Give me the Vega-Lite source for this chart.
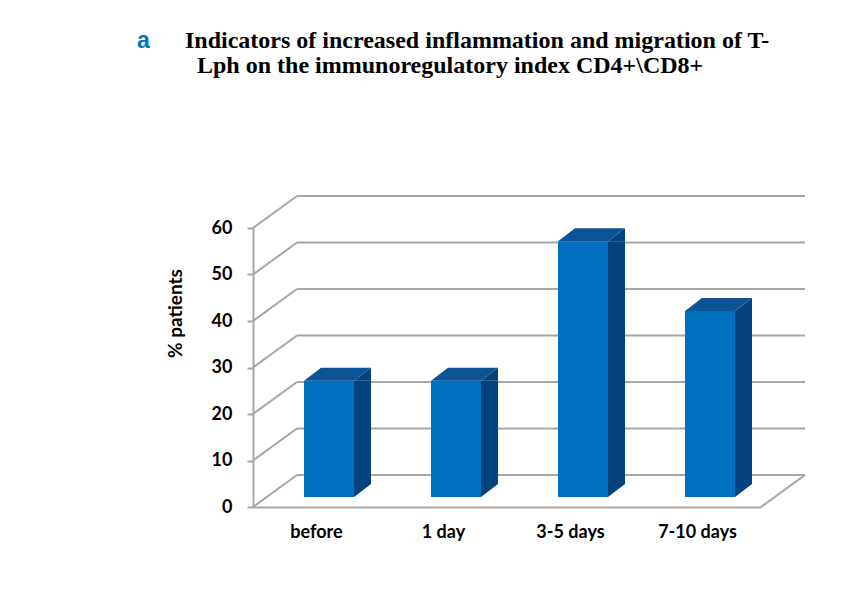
{
  "$schema": "https://vega.github.io/schema/vega-lite/v6.json",
  "width": 508,
  "height": 279,
  "autosize": {"type": "none"},
  "padding": {"left": 253, "top": 228, "right": 81, "bottom": 86},
  "background": "white",
  "title": {
    "text": "a",
    "subtitle": [
      "\u200B\u2002\u2002\u2002\u2002Indicators of increased inflammation and migration of T-",
      "\u200B\u2002\u2002\u2002\u2002\u2002Lph on the immunoregulatory index CD4+\\CD8+"
    ],
    "anchor": "start",
    "frame": "group",
    "orient": "top",
    "dx": -116,
    "offset": 116,
    "font": "Liberation Sans",
    "fontSize": 23,
    "fontWeight": "bold",
    "color": "#0070C0",
    "subtitleFont": "Liberation Serif",
    "subtitleFontSize": 24,
    "subtitleFontWeight": "bold",
    "subtitleColor": "#000000",
    "subtitlePadding": -24,
    "subtitleLineHeight": 25
  },
  "datasets": {
    "grid": [{"v": 0}, {"v": 10}, {"v": 20}, {"v": 30}, {"v": 40}, {"v": 50}, {"v": 60}],
    "bars": [
      {"period": "before", "pct": 25},
      {"period": "1 day", "pct": 25},
      {"period": "3-5 days", "pct": 55},
      {"period": "7-10 days", "pct": 40}
    ]
  },
  "config": {
    "view": {"stroke": null},
    "axisY": {
      "grid": false,
      "values": [0, 10, 20, 30, 40, 50, 60],
      "domainColor": "#A6A6A6",
      "domainWidth": 2,
      "tickColor": "#A6A6A6",
      "tickWidth": 2,
      "tickSize": 6,
      "labelFont": "Lato",
      "labelFontWeight": "bold",
      "labelFontSize": 18,
      "labelColor": "#000000",
      "labelPadding": 15,
      "titleFont": "Lato",
      "titleFontWeight": "bold",
      "titleFontSize": 19,
      "titleColor": "#000000",
      "titlePadding": 26,
      "titleY": 85
    },
    "axisX": {
      "grid": false,
      "ticks": false,
      "domainColor": "#A6A6A6",
      "domainWidth": 2,
      "labelFont": "Lato",
      "labelFontWeight": "bold",
      "labelFontSize": 18,
      "labelColor": "#000000",
      "labelPadding": 16,
      "labelAngle": 0,
      "title": null
    }
  },
  "resolve": {"scale": {"x": "independent"}},
  "layer": [
    {
      "data": {"name": "grid"},
      "layer": [
        {
          "mark": {"type": "rule", "color": "#A6A6A6", "strokeWidth": 2, "xOffset": 44, "x2Offset": 44, "yOffset": -32},
          "encoding": {
            "x": {"datum": 0, "type": "quantitative", "scale": {"domain": [0, 1]}, "axis": null},
            "x2": {"datum": 1},
            "y": {"field": "v", "type": "quantitative", "scale": {"domain": [0, 60], "nice": false}, "title": "% patients"}
          }
        },
        {
          "mark": {"type": "rule", "color": "#A6A6A6", "strokeWidth": 2, "x2Offset": 44, "y2Offset": -32},
          "encoding": {
            "x": {"datum": 0, "type": "quantitative", "scale": {"domain": [0, 1]}, "axis": null},
            "x2": {"datum": 0},
            "y": {"field": "v", "type": "quantitative", "scale": {"domain": [0, 60], "nice": false}, "title": "% patients"},
            "y2": {"field": "v"}
          }
        },
        {
          "transform": [{"filter": "datum.v == 0"}],
          "mark": {"type": "rule", "color": "#A6A6A6", "strokeWidth": 2, "x2Offset": 44, "y2Offset": -32},
          "encoding": {
            "x": {"datum": 1, "type": "quantitative", "scale": {"domain": [0, 1]}, "axis": null},
            "x2": {"datum": 1},
            "y": {"field": "v", "type": "quantitative", "scale": {"domain": [0, 60], "nice": false}, "title": "% patients"},
            "y2": {"field": "v"}
          }
        }
      ]
    },
    {
      "data": {"name": "bars"},
      "layer": [
        {
          "mark": {"type": "bar", "width": 50, "xOffset": 12.5, "yOffset": -10, "y2Offset": -10, "color": "#0070C0"},
          "encoding": {
            "x": {"field": "period", "type": "nominal", "sort": null, "scale": {"paddingInner": 0, "paddingOuter": 0}},
            "y": {"field": "pct", "type": "quantitative", "scale": {"domain": [0, 60], "nice": false}, "title": "% patients"},
            "y2": {"datum": 0}
          }
        },
        {
          "mark": {"type": "bar", "width": 17, "xOffset": 46, "yOffset": -10, "y2Offset": -23, "color": "#04427D"},
          "encoding": {
            "x": {"field": "period", "type": "nominal", "sort": null},
            "y": {"field": "pct", "type": "quantitative", "scale": {"domain": [0, 60], "nice": false}, "title": "% patients"},
            "y2": {"datum": 0}
          }
        },
        {
          "mark": {"type": "point", "shape": "M 37.5 -10 L 54.5 -23 L 54.5 -10 Z", "size": 4, "filled": true, "opacity": 1, "strokeWidth": 0, "color": "#04427D"},
          "encoding": {
            "x": {"field": "period", "type": "nominal", "sort": null},
            "y": {"field": "pct", "type": "quantitative", "scale": {"domain": [0, 60], "nice": false}, "title": "% patients"}
          }
        },
        {
          "mark": {"type": "point", "shape": "M 37.5 -23 L 37.5 -10 L 54.5 -23 Z", "size": 4, "filled": true, "opacity": 1, "strokeWidth": 0, "color": "#04427D"},
          "encoding": {
            "x": {"field": "period", "type": "nominal", "sort": null},
            "y": {"datum": 0, "type": "quantitative", "scale": {"domain": [0, 60], "nice": false}, "title": "% patients"}
          }
        },
        {
          "mark": {"type": "point", "shape": "M -12.5 -10 L 37.5 -10 L 54.5 -23 L 4.5 -23 Z", "size": 4, "filled": true, "opacity": 1, "strokeWidth": 0, "color": "#0D5496"},
          "encoding": {
            "x": {"field": "period", "type": "nominal", "sort": null},
            "y": {"field": "pct", "type": "quantitative", "scale": {"domain": [0, 60], "nice": false}, "title": "% patients"}
          }
        }
      ]
    }
  ]
}
